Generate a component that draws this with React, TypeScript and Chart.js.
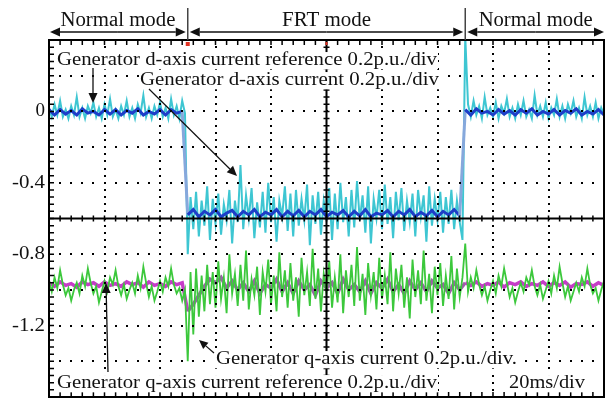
import React, { useEffect, useRef } from "react";
import { Chart, registerables } from "chart.js";

Chart.register(...registerables);

const CANVAS_W = 609;
const CANVAS_H = 399;

// Time axis (ms) and value axis (p.u.)
const timeMin = 0;
const timeMax = 200;
const valueMin = -1.6;
const valueMax = 0.4;
const yTickLabelValues = [0, -0.4, -0.8, -1.2];
const yTickLabelTexts = ["0", "-0.4", "-0.8", "-1.2"];
const frtStartMs = 50;
const frtEndMs = 150;
const fastSampleMs = 1;
const slowSampleMs = 2;

// Generator d-axis current (1 ms samples, 0..200 ms)
const dAxisCurrent = [
  0.02, -0.03, 0.04, -0.02, 0.06, -0.03, 0.01, -0.04, 0.03, -0.02,
  0.08, -0.03, 0.02, -0.04, 0.03, -0.01, 0.05, -0.03, 0.02, -0.04,
  0.04, -0.02, 0.07, -0.03, 0.01, -0.04, 0.03, -0.02, 0.06, -0.03,
  0.02, -0.04, 0.04, -0.01, 0.09, -0.03, 0.02, -0.04, 0.03, -0.02,
  0.05, -0.03, 0.02, -0.04, 0.07, -0.02, 0.03, -0.04, 0.06, -0.01,
  -0.80, -0.48, -0.66, -0.45, -0.70, -0.50, -0.64, -0.42, -0.72, -0.49,
  -0.63, -0.46, -0.69, -0.52, -0.61, -0.44, -0.74, -0.50, -0.62, -0.30,
  -0.66, -0.47, -0.60, -0.43, -0.71, -0.51, -0.65, -0.45, -0.68, -0.40,
  -0.62, -0.48, -0.73, -0.50, -0.59, -0.42, -0.67, -0.46, -0.70, -0.44,
  -0.64, -0.49, -0.61, -0.41, -0.75, -0.47, -0.63, -0.45, -0.69, -0.50,
  -0.60, -0.43, -0.72, -0.46, -0.66, -0.40, -0.62, -0.48, -0.70, -0.44,
  -0.65, -0.39, -0.61, -0.47, -0.68, -0.42, -0.74, -0.49, -0.60, -0.44,
  -0.66, -0.41, -0.63, -0.48, -0.71, -0.45, -0.61, -0.43, -0.67, -0.50,
  -0.62, -0.46, -0.70, -0.44, -0.59, -0.47, -0.73, -0.42, -0.64, -0.49,
  -0.61, -0.45, -0.68, -0.48, -0.63, -0.44, -0.66, -0.50, -0.62, -0.72,
  0.42,
  0.04, -0.03, 0.06, -0.02, 0.03, -0.04, 0.08, -0.02, 0.02, -0.03,
  0.05, -0.04, 0.03, -0.01, 0.07, -0.03, 0.02, -0.04, 0.04, -0.02,
  0.06, -0.03, 0.01, -0.04, 0.09, -0.02, 0.03, -0.03, 0.05, -0.04,
  0.02, -0.02, 0.07, -0.03, 0.03, -0.04, 0.04, -0.01, 0.06, -0.03,
  0.02, -0.04, 0.08, -0.02, 0.03, -0.03, 0.05, -0.04, 0.02, -0.02,
];

// Generator d-axis current reference (2 ms samples, 0..200 ms)
const dAxisReference = [
  0.01, -0.02, 0.01, -0.015, 0.005, -0.02, 0.015, -0.01, 0.0, -0.02,
  0.01, -0.015, 0.01, -0.02, 0.005, -0.01, 0.015, -0.02, 0.0, -0.015,
  0.01, -0.02, 0.01, -0.01, 0.0,
  -0.58, -0.55, -0.59, -0.56, -0.58, -0.55, -0.59, -0.57, -0.555, -0.59,
  -0.56, -0.58, -0.55, -0.59, -0.565, -0.58, -0.55, -0.59, -0.56, -0.585,
  -0.555, -0.59, -0.56, -0.58, -0.55, -0.59, -0.565, -0.58, -0.555, -0.59,
  -0.56, -0.585, -0.55, -0.59, -0.57, -0.58, -0.555, -0.59, -0.56, -0.58,
  -0.55, -0.59, -0.565, -0.585, -0.555, -0.59, -0.56, -0.58, -0.55, -0.585,
  0.01, -0.02, 0.015, -0.01, 0.0, -0.02, 0.01, -0.015, 0.005, -0.02,
  0.01, -0.01, 0.015, -0.02, 0.0, -0.015, 0.01, -0.02, 0.005, -0.01,
  0.015, -0.02, 0.0, -0.015, 0.01, -0.02,
];

// Generator q-axis current (1 ms samples, 0..200 ms)
const qAxisCurrent = [
  -0.95, -1.01, -0.93, -0.99, -0.89, -0.97, -1.03, -0.99, -1.06, -1.00,
  -0.96, -1.02, -0.92, -0.98, -0.88, -0.96, -1.02, -0.98, -1.07, -1.01,
  -0.95, -1.01, -0.93, -0.97, -0.89, -0.98, -1.03, -0.97, -1.05, -1.00,
  -0.96, -1.02, -0.92, -0.99, -0.87, -0.96, -1.04, -0.98, -1.06, -1.01,
  -0.95, -1.01, -0.93, -0.98, -0.88, -0.97, -1.02, -0.99, -1.06, -1.00,
  -1.40, -0.90, -1.25, -0.88, -1.15, -0.92, -1.12, -0.86, -1.08, -0.90,
  -1.10, -0.84, -1.05, -0.93, -1.13, -0.80, -1.02, -0.91, -1.09, -0.86,
  -1.06, -0.78, -1.11, -0.94, -1.03, -0.87, -1.14, -0.90, -1.01, -0.83,
  -1.08, -0.92, -1.12, -0.79, -1.04, -0.89, -1.10, -0.85, -1.06, -0.93,
  -1.15, -0.82, -1.03, -0.90, -1.09, -0.77, -1.05, -0.88, -1.12, -0.91,
  -1.02, -0.84, -1.10, -0.93, -1.07, -0.80, -1.13, -0.89, -1.04, -0.86,
  -1.09, -0.76, -1.06, -0.91, -1.14, -0.85, -1.03, -0.90, -1.11, -0.82,
  -1.05, -0.92, -1.08, -0.79, -1.12, -0.88, -1.02, -0.86, -1.10, -0.93,
  -1.16, -0.83, -1.04, -0.89, -1.08, -0.78, -1.06, -0.91, -1.13, -0.87,
  -1.03, -0.85, -1.09, -0.92, -1.05, -0.81, -1.11, -0.88, -1.04, -0.93,
  -0.74, -1.01, -0.93, -0.99, -0.89, -0.97, -1.03, -0.98, -1.06, -1.00,
  -0.95, -1.02, -0.92, -0.98, -0.88, -0.96, -1.04, -0.99, -1.07, -1.01,
  -0.96, -1.01, -0.93, -0.97, -0.89, -0.98, -1.03, -0.97, -1.05, -1.00,
  -0.95, -1.02, -0.92, -0.99, -0.87, -0.96, -1.04, -0.98, -1.06, -1.01,
  -0.96, -1.01, -0.93, -0.98, -0.88, -0.97, -1.02, -0.99, -1.06, -1.00,
  -0.95,
];

// Generator q-axis current reference (2 ms samples, 0..200 ms)
const qAxisReference = [
  -0.96, -0.98, -0.955, -0.975, -0.965, -0.985, -0.955, -0.97, -0.96, -0.98,
  -0.955, -0.975, -0.965, -0.98, -0.955, -0.97, -0.96, -0.985, -0.955, -0.975,
  -0.965, -0.98, -0.955, -0.97, -0.96,
  -1.12, -1.08, -1.03, -0.98, -0.94, -0.96, -0.93, -0.99, -0.95, -1.00,
  -0.96, -1.01, -0.95, -1.02, -0.97, -0.99, -0.94, -1.01, -0.96, -1.02,
  -0.95, -1.00, -0.97, -1.03, -0.95, -0.99, -0.96, -1.02, -0.94, -1.00,
  -0.97, -1.01, -0.95, -1.02, -0.96, -0.99, -0.94, -1.01, -0.97, -1.02,
  -0.95, -1.00, -0.96, -1.01, -0.95, -0.99, -0.97, -1.02, -0.96, -1.00,
  -0.96, -0.975, -0.955, -0.98, -0.965, -0.975, -0.955, -0.985, -0.96, -0.97,
  -0.955, -0.98, -0.965, -0.975, -0.955, -0.98, -0.96, -0.975, -0.955, -0.985,
  -0.965, -0.97, -0.955, -0.98, -0.96, -0.975,
];

const modeLabels = ["Normal mode", "FRT mode", "Normal mode"];
const dRefLabel = "Generator d-axis current reference 0.2p.u./div";
const dCurLabel = "Generator d-axis current 0.2p.u./div";
const qCurLabel = "Generator q-axis current 0.2p.u./div.";
const qRefLabel = "Generator q-axis current reference 0.2p.u./div";
const timeDivLabel = "20ms/div";

const FONT = '"Liberation Serif", "Times New Roman", serif';

const toPoints = (vals: number[], step: number) =>
  vals.map((y, i) => ({ x: timeMin + i * step, y }));

function drawStretched(
  ctx: CanvasRenderingContext2D,
  text: string,
  x: number,
  baseline: number,
  width: number,
  size: number,
  bg: boolean
) {
  ctx.font = `${size}px ${FONT}`;
  ctx.textAlign = "left";
  ctx.textBaseline = "alphabetic";
  const w = ctx.measureText(text).width;
  if (bg) {
    ctx.fillStyle = "#fff";
    ctx.fillRect(x - 1, baseline - size * 0.72, width + 2, size * 0.96);
  }
  ctx.save();
  ctx.translate(x, baseline);
  ctx.scale(width / w, 1);
  ctx.fillStyle = "#111";
  ctx.fillText(text, 0, 0);
  ctx.restore();
}

function drawArrow(
  ctx: CanvasRenderingContext2D,
  x1: number,
  y1: number,
  x2: number,
  y2: number,
  head = 10,
  half = 4.5,
  lw = 1.3
) {
  const ang = Math.atan2(y2 - y1, x2 - x1);
  const bx = x2 - head * Math.cos(ang);
  const by = y2 - head * Math.sin(ang);
  ctx.strokeStyle = "#111";
  ctx.lineWidth = lw;
  ctx.beginPath();
  ctx.moveTo(x1, y1);
  ctx.lineTo(bx, by);
  ctx.stroke();
  ctx.fillStyle = "#111";
  ctx.beginPath();
  ctx.moveTo(x2, y2);
  ctx.lineTo(bx + half * Math.sin(ang), by - half * Math.cos(ang));
  ctx.lineTo(bx - half * Math.sin(ang), by + half * Math.cos(ang));
  ctx.closePath();
  ctx.fill();
}

const scopePlugin = {
  id: "scopeGrid",
  afterDatasetsDraw(chart: any) {
    const ctx: CanvasRenderingContext2D = chart.ctx;
    const { left, right, top, bottom } = chart.chartArea;
    const xs = chart.scales.x;
    const ys = chart.scales.y;
    ctx.save();
    ctx.fillStyle = "#000";
    // dotted vertical grid lines
    for (let k = 1; k < 10; k++) {
      if (k === 5) continue;
      const px = Math.round(xs.getPixelForValue(k * 20));
      for (let m = 0; m <= 50; m++) {
        const py = Math.round(ys.getPixelForValue(valueMin + m * 0.04));
        ctx.fillRect(px - 1, py - 1, 2, 2);
      }
    }
    // dotted horizontal grid lines
    for (let k = 1; k < 10; k++) {
      if (k === 5) continue;
      const py = Math.round(ys.getPixelForValue(valueMax - k * 0.2));
      for (let m = 0; m <= 50; m++) {
        const px = Math.round(xs.getPixelForValue(m * 4));
        ctx.fillRect(px - 1, py - 1, 2, 2);
      }
    }
    // centre cross
    const cx = xs.getPixelForValue(100);
    const cy = ys.getPixelForValue(-0.6);
    ctx.strokeStyle = "#000";
    ctx.lineWidth = 2;
    ctx.beginPath();
    ctx.moveTo(cx, top);
    ctx.lineTo(cx, bottom);
    ctx.moveTo(left, cy);
    ctx.lineTo(right, cy);
    ctx.stroke();
    ctx.lineWidth = 1.5;
    ctx.beginPath();
    for (let m = 0; m <= 50; m++) {
      const py = ys.getPixelForValue(valueMin + m * 0.04);
      ctx.moveTo(cx - 3, py);
      ctx.lineTo(cx + 3, py);
      ctx.moveTo(left, py);
      ctx.lineTo(left + 5, py);
    }
    for (let m = 0; m <= 50; m++) {
      const px = xs.getPixelForValue(m * 4);
      ctx.moveTo(px, cy - 3);
      ctx.lineTo(px, cy + 3);
      ctx.moveTo(px, top);
      ctx.lineTo(px, top + 5);
      ctx.moveTo(px, bottom);
      ctx.lineTo(px, bottom - 5);
    }
    ctx.stroke();
    // frame
    ctx.lineWidth = 2;
    ctx.strokeRect(left, top, right - left, bottom - top);
    ctx.restore();
  },
  afterDraw(chart: any) {
    const ctx: CanvasRenderingContext2D = chart.ctx;
    const { left, right, top } = chart.chartArea;
    const xs = chart.scales.x;
    const ys = chart.scales.y;
    const xa = xs.getPixelForValue(frtStartMs);
    const xb = xs.getPixelForValue(frtEndMs);
    ctx.save();

    // y tick labels
    ctx.font = `19px ${FONT}`;
    ctx.fillStyle = "#111";
    ctx.textBaseline = "middle";
    yTickLabelValues.forEach((v, i) => {
      const txt = yTickLabelTexts[i];
      const py = ys.getPixelForValue(v);
      const w = ctx.measureText(txt).width;
      const sx = txt.length > 1 ? 1.1 : 1;
      ctx.save();
      ctx.translate(left - 4 - w * sx, py);
      ctx.scale(sx, 1);
      ctx.textAlign = "left";
      ctx.fillText(txt, 0, 0);
      ctx.restore();
    });

    // mode dividers
    ctx.strokeStyle = "#444";
    ctx.lineWidth = 1.5;
    ctx.beginPath();
    ctx.moveTo(xa, 8);
    ctx.lineTo(xa, top);
    ctx.moveTo(xb, 8);
    ctx.lineTo(xb, top);
    ctx.stroke();

    // double arrows
    const arrowY = 32;
    const spans = [
      [left + 1, xa - 2],
      [xa + 2, xb - 2],
      [xb + 2, right],
    ];
    const widths = [115, 89, 114];
    spans.forEach(([a, b], i) => {
      const mid = (a + b) / 2;
      drawArrow(ctx, mid, arrowY, a, arrowY, 10, 4.5, 1.4);
      drawArrow(ctx, mid, arrowY, b, arrowY, 10, 4.5, 1.4);
      drawStretched(ctx, modeLabels[i], mid - widths[i] / 2, 26, widths[i], 20, false);
    });

    // small red marker
    ctx.fillStyle = "#e03020";
    ctx.fillRect(xa - 2, top + 2, 4, 4);
    ctx.fillRect(xs.getPixelForValue(100) - 1, top + 2, 2, 3);

    // inner labels
    drawStretched(ctx, dRefLabel, 57, 65, 380, 18, true);
    drawStretched(ctx, dCurLabel, 140, 85, 299, 18, true);
    drawStretched(ctx, qCurLabel, 216, 364, 301, 18, true);
    drawStretched(ctx, qRefLabel, 57, 388, 380, 18, true);
    drawStretched(ctx, timeDivLabel, 509, 388, 76, 18, true);

    // pointer arrows
    drawArrow(ctx, 93, 68, 93, 103, 10, 4.5, 1.3);
    drawArrow(ctx, 149, 89, 237, 176, 10, 4.5, 1.2);
    drawArrow(ctx, 214, 353, 199, 340, 9, 4, 1.2);
    drawArrow(ctx, 108, 372, 106, 283, 10, 4.5, 1.3);
    ctx.restore();
  },
};

export default function App() {
  const canvasRef = useRef<HTMLCanvasElement | null>(null);

  useEffect(() => {
    const canvas = canvasRef.current;
    if (!canvas) return;
    const stepColor = (base: string, light: string) => (c: any) =>
      Math.abs(c.p1.parsed.y - c.p0.parsed.y) > 0.3 ? light : base;
    const chart = new Chart(canvas, {
      type: "line",
      data: {
        datasets: [
          {
            label: "d-axis current",
            data: toPoints(dAxisCurrent, fastSampleMs),
            borderColor: "#3ec6d2",
            borderWidth: 2,
            order: 3,
          },
          {
            label: "d-axis current reference",
            data: toPoints(dAxisReference, slowSampleMs),
            borderColor: "#1d3ec8",
            borderWidth: 3,
            order: 2,
            segment: { borderColor: stepColor("#1d3ec8", "#86a8dc") },
          },
          {
            label: "q-axis current reference",
            data: toPoints(qAxisReference, slowSampleMs),
            borderColor: "#c63cc8",
            borderWidth: 3.5,
            order: 1,
            segment: {
              borderColor: (c: any) =>
                c.p0.parsed.x >= frtStartMs && c.p1.parsed.x <= frtEndMs ? "#9a62a6" : "#c63cc8",
            },
          },
          {
            label: "q-axis current",
            data: toPoints(qAxisCurrent, fastSampleMs),
            borderColor: "#3cc83c",
            borderWidth: 1.8,
            order: 0,
          },
        ],
      },
      options: {
        animation: false,
        responsive: false,
        devicePixelRatio: 1,
        events: [],
        layout: { padding: { top: 40, right: 5, bottom: 2, left: 49 } },
        elements: { point: { radius: 0 }, line: { tension: 0 } },
        plugins: { legend: { display: false }, tooltip: { enabled: false } },
        scales: {
          x: { type: "linear", min: timeMin, max: timeMax, display: false },
          y: { type: "linear", min: valueMin, max: valueMax, display: false },
        },
      },
      plugins: [scopePlugin],
    });
    return () => chart.destroy();
  }, []);

  return (
    <div style={{ position: "fixed", left: 0, top: 0, width: CANVAS_W, height: CANVAS_H, background: "#fff" }}>
      <canvas ref={canvasRef} width={CANVAS_W} height={CANVAS_H} style={{ display: "block" }} />
    </div>
  );
}
